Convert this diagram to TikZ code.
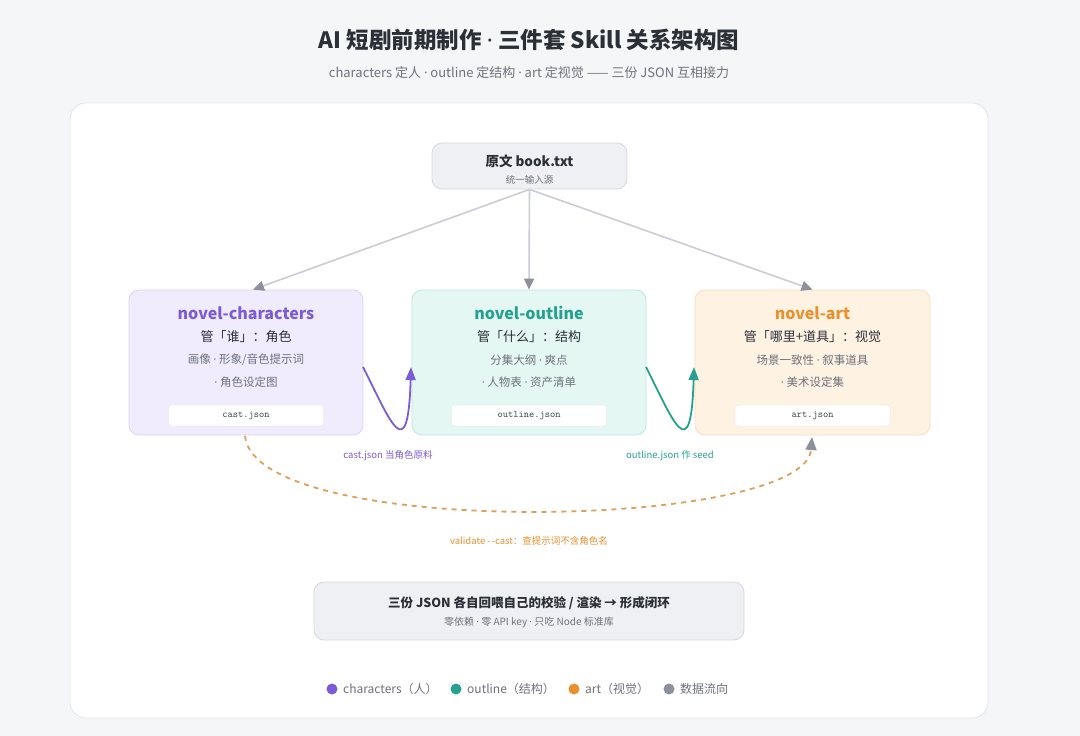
\documentclass[tikz,border=0pt]{standalone}
\usepackage{fontspec}
\setmainfont{Noto Sans CJK SC}
\newfontfamily\latf{Noto Sans}
\newcommand{\md}{{\latf ·}}
\usetikzlibrary{arrows.meta}
\definecolor{bgc}{HTML}{F5F6F8}
\definecolor{panelb}{HTML}{E3E5E9}
\definecolor{grayf}{HTML}{EFF0F3}
\definecolor{grayb}{HTML}{D6D9DF}
\definecolor{pur}{HTML}{7B5CD6}
\definecolor{purf}{HTML}{F0ECFD}
\definecolor{purb}{HTML}{DCD3F8}
\definecolor{tea}{HTML}{26A190}
\definecolor{teaf}{HTML}{E5F7F3}
\definecolor{teab}{HTML}{BDE8DF}
\definecolor{ora}{HTML}{E8912D}
\definecolor{oraf}{HTML}{FEF2E3}
\definecolor{orab}{HTML}{F7DEBE}
\definecolor{dashc}{HTML}{DDA05A}
\definecolor{flowl}{HTML}{CACDD3}
\definecolor{flowh}{HTML}{8C909A}
\definecolor{darkt}{HTML}{2B2F36}
\definecolor{midt}{HTML}{40444C}
\definecolor{lightt}{HTML}{6E727A}
\newcommand{\fs}[1]{\fontsize{#1}{#1}\selectfont}
\tikzset{
  box/.style={rounded corners=10pt, line width=0.8pt, inner sep=0pt},
  txt/.style={inner sep=0pt, anchor=center},
  flow/.style={flowl, line width=1.6pt, -{Triangle[length=11pt,width=10pt,fill=flowh,color=flowh]}},
  handoff/.style={line width=1.8pt, -{Triangle[length=13pt,width=10pt]}},
  jsonbox/.style={draw=grayb!50, fill=white, rounded corners=3pt, line width=0.5pt, minimum width=155pt, minimum height=21pt, inner sep=0pt},
  dot/.style={circle, minimum size=11pt, inner sep=0pt},
}
\begin{document}
\begin{tikzpicture}[x=1pt, y=-1pt]
\useasboundingbox (0,0) rectangle (1080,736);
\fill[bgc] (0,0) rectangle (1080,736);
\draw[panelb, fill=white, rounded corners=16pt, line width=0.8pt] (70,103) rectangle (988,718);

\node[txt, text=darkt, font=\bfseries\fs{22.5}] (title) at (529,40) {AI 短剧前期制作 \md{} 三件套 Skill 关系架构图};
\node[txt, text=lightt, font=\fs{13}] (subtitle) at (529,73) {characters 定人 \md{} outline 定结构 \md{} art 定视觉 —— 三份 JSON 互相接力};

% source
\node[box, draw=grayb, fill=grayf, minimum width=195pt, minimum height=46pt] (src) at (529.5,166) {};
\node[txt, text=darkt, font=\bfseries\fs{13.5}] (srct) at (529.5,161) {原文 book.txt};
\node[txt, text=lightt, font=\fs{9.5}] (srcs) at (529.5,180) {统一输入源};

% three boxes
\node[box, draw=purb, fill=purf, minimum width=234pt, minimum height=145pt] (chars) at (246,362.5) {};
\node[box, draw=teab, fill=teaf, minimum width=234pt, minimum height=145pt] (outl) at (529,362.5) {};
\node[box, draw=orab, fill=oraf, minimum width=235pt, minimum height=145pt] (art) at (812.5,362.5) {};

\node[txt, text=pur, font=\bfseries\fs{16}] (ct) at (246,313) {novel-characters};
\node[txt, text=darkt, font=\fs{13}] (cs) at (246,337) {管「谁」：角色};
\node[txt, text=lightt, font=\fs{11.5}] (c1) at (246,360) {画像 \md{} 形象/音色提示词};
\node[txt, text=lightt, font=\fs{11.5}] (c2) at (246,382) {\md{} 角色设定图};
\node[jsonbox] (cj) at (246,415.5) {};
\node[txt, text=midt, font=\ttfamily\fs{10}] (cjt) at (246,415.5) {cast.json};

\node[txt, text=tea, font=\bfseries\fs{16}] (ot) at (529,313) {novel-outline};
\node[txt, text=darkt, font=\fs{13}] (os) at (529,337) {管「什么」：结构};
\node[txt, text=lightt, font=\fs{11.5}] (o1) at (529,360) {分集大纲 \md{} 爽点};
\node[txt, text=lightt, font=\fs{11.5}] (o2) at (529,382) {\md{} 人物表 \md{} 资产清单};
\node[jsonbox] (oj) at (529,415.5) {};
\node[txt, text=midt, font=\ttfamily\fs{10}] (ojt) at (529,415.5) {outline.json};

\node[txt, text=ora, font=\bfseries\fs{16}] (at) at (812.5,313) {novel-art};
\node[txt, text=darkt, font=\fs{13}] (as) at (812.5,337) {管「哪里+道具」：视觉};
\node[txt, text=lightt, font=\fs{11.5}] (a1) at (812.5,360) {场景一致性 \md{} 叙事道具};
\node[txt, text=lightt, font=\fs{11.5}] (a2) at (812.5,382) {\md{} 美术设定集};
\node[jsonbox] (aj) at (812.5,415.5) {};
\node[txt, text=midt, font=\ttfamily\fs{10}] (ajt) at (812.5,415.5) {art.json};

% flows from source
\draw[flow] (src.south) -- ([xshift=7pt]chars.north);
\draw[flow] (src.south) -- (outl.north);
\draw[flow] (src.south) -- (art.north);

% hand-offs
\coordinate (p1) at (363,367);
\coordinate (p2) at (411,367);
\draw[handoff, pur] (p1) .. controls (390,420) and (408,470) .. (p2);
\coordinate (q1) at (646,367);
\coordinate (q2) at (694,367);
\draw[handoff, tea] (q1) .. controls (673,420) and (691,470) .. (q2);
\node[txt, text=pur, font=\fs{9.5}] (l1) at (388,456) {cast.json 当角色原料};
\node[txt, text=tea, font=\fs{9.5}] (l2) at (670,456) {outline.json 作 seed};

% dashed validate loop
\coordinate (d1) at (245,436);
\coordinate (d2) at (812,437);
\draw[dashc, line width=1.8pt, dash pattern=on 5pt off 5pt, -{Triangle[length=13pt,width=11pt,fill=flowh,color=flowh,sep=0pt]}] (d1) .. controls (255,540) and (805,530) .. (d2);
\node[txt, text=ora, font=\fs{9.5}] (l3) at (529,541) {validate -\kern1pt-cast：查提示词不含角色名};

% bottom summary
\node[box, draw=grayb, fill=grayf, minimum width=430pt, minimum height=58pt] (sum) at (529,611) {};
\node[txt, text=darkt, font=\bfseries\fs{12.5}] (sumt) at (529,603) {三份 JSON 各自回喂自己的校验 / 渲染 → 形成闭环};
\node[txt, text=lightt, font=\fs{10}] (sums) at (529,622) {零依赖 \md{} 零 API key \md{} 只吃 Node 标准库};

% legend
\node[dot, fill=pur] (g1) at (332,689) {};
\node[txt, anchor=west, text=lightt, font=\fs{12}] (g1t) at (343,689) {characters（人）};
\node[dot, fill=tea] (g2) at (456,689) {};
\node[txt, anchor=west, text=lightt, font=\fs{12}] (g2t) at (467,689) {outline（结构）};
\node[dot, fill=ora] (g3) at (574,689) {};
\node[txt, anchor=west, text=lightt, font=\fs{12}] (g3t) at (585,689) {art（视觉）};
\node[dot, fill=flowh] (g4) at (669,689) {};
\node[txt, anchor=west, text=lightt, font=\fs{12}] (g4t) at (680,689) {数据流向};
\end{tikzpicture}
\end{document}
